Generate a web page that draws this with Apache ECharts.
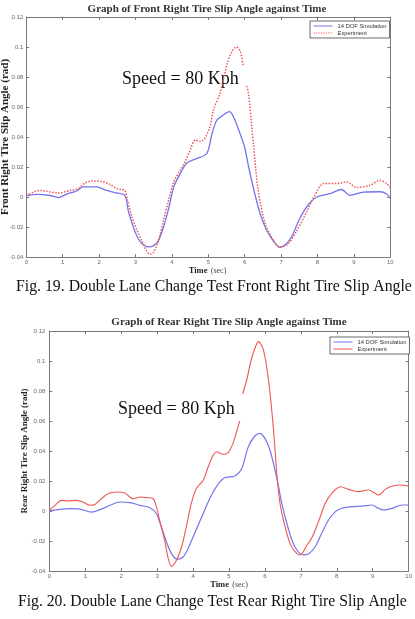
<!DOCTYPE html>
<html><head><meta charset="utf-8">
<script src="https://cdn.jsdelivr.net/npm/echarts@6/dist/echarts.min.js"></script>
<style>html,body{margin:0;padding:0;background:#fff}#c{width:415px;height:619px}</style>
</head><body><div id="c"></div>
<script>
// ---------- data ----------
const xTickValues = [0,1,2,3,4,5,6,7,8,9,10];
const yMin = -0.04, yMax = 0.12, yStep = 0.02;

const frontSimT = [0,0.3,0.65,0.88,1.1,1.38,1.56,1.93,2.2,2.48,2.71,2.8,2.94,3.08,3.22,3.36,3.5,3.63,3.77,3.91,4.05,4.23,4.41,4.68,4.96,5.1,5.23,5.4,5.58,5.7,5.87,6.0,6.1,6.2,6.33,6.45,6.6,6.78,6.97,7.15,7.3,7.52,7.75,7.98,8.34,8.66,8.89,9.26,9.72,9.9,10];
const frontSimV = [0.001,0.0018,0.001,-0.0004,0.0018,0.004,0.0067,0.0067,0.0044,0.0027,0.001,-0.009,-0.02,-0.028,-0.032,-0.0333,-0.0324,-0.029,-0.02,-0.0078,0.0067,0.0156,0.0227,0.0256,0.029,0.042,0.051,0.0545,0.0569,0.053,0.0424,0.033,0.021,0.01,-0.003,-0.013,-0.022,-0.029,-0.0335,-0.031,-0.026,-0.014,-0.005,0,0.0022,0.005,0.0011,0.0033,0.0035,0.002,-0.001];

const frontExpT = [0,0.38,0.56,0.88,1.2,1.43,1.61,1.84,2.07,2.3,2.48,2.62,2.71,2.78,2.9,3.04,3.17,3.3,3.4,3.5,3.63,3.77,3.91,4.05,4.23,4.37,4.5,4.64,4.78,4.9,5.05,5.14,5.32,5.52,5.65,5.78,5.88,5.96,6.0,6.05,6.1,6.24,6.37,6.56,6.79,6.97,7.2,7.44,7.7,7.9,8.18,8.54,8.8,9.08,9.44,9.72,9.9,10];
const frontExpV = [0.001,0.0044,0.0038,0.0027,0.0044,0.0056,0.0093,0.0107,0.0104,0.0084,0.0056,0.005,0.0044,-0.002,-0.013,-0.022,-0.029,-0.0356,-0.0382,-0.0367,-0.029,-0.0156,-0.002,0.01,0.0178,0.024,0.031,0.038,0.037,0.039,0.047,0.058,0.069,0.089,0.097,0.1,0.097,0.087,null,0.074,0.07,0.035,0.0047,-0.0175,-0.029,-0.0335,-0.031,-0.022,-0.01,0,0.009,0.009,0.01,0.0063,0.0078,0.011,0.009,0.006];

const rearSimT = [0,0.3,0.57,0.85,1.18,1.41,1.69,1.96,2.24,2.52,2.8,2.98,3.12,3.26,3.4,3.56,3.72,3.86,4.0,4.14,4.28,4.42,4.56,4.74,4.88,5.02,5.17,5.35,5.54,5.72,5.86,6.0,6.14,6.28,6.38,6.47,6.61,6.75,6.89,7.07,7.21,7.4,7.58,7.77,7.96,8.14,8.42,8.7,8.98,9.16,9.3,9.54,9.81,10];
const rearSimV = [0,0.0011,0.0016,0.0013,-0.0007,0.0009,0.0038,0.006,0.0056,0.0038,0.0022,-0.0018,-0.0107,-0.0207,-0.0284,-0.0322,-0.0307,-0.0251,-0.0173,-0.0096,-0.0018,0.006,0.0127,0.0193,0.0222,0.0227,0.0233,0.028,0.0429,0.05,0.0518,0.0484,0.0407,0.0273,0.0162,0.0051,-0.0082,-0.0193,-0.026,-0.0293,-0.0287,-0.0238,-0.0149,-0.006,-0.0004,0.0018,0.0029,0.0033,0.004,0.0018,0.0007,0.0018,0.004,0.004];

const rearExpT = [0,0.16,0.34,0.53,0.76,0.94,1.13,1.27,1.45,1.64,1.87,2.1,2.33,2.52,2.7,2.89,2.98,3.07,3.21,3.3,3.4,3.54,3.68,3.81,3.95,4.09,4.28,4.42,4.56,4.66,4.83,4.97,5.11,5.2,5.3,5.34,5.38,5.5,5.6,5.7,5.82,5.96,6.1,6.24,6.33,6.42,6.56,6.7,6.84,6.98,7.07,7.17,7.3,7.49,7.68,7.86,8.1,8.33,8.6,8.88,9.16,9.35,9.49,9.72,10];
const rearExpV = [0.0004,0.0038,0.0071,0.0067,0.0071,0.006,0.0038,0.0044,0.0082,0.0116,0.0127,0.012,0.0082,0.0093,0.0089,0.0082,0.0027,-0.0062,-0.0196,-0.0307,-0.0369,-0.0329,-0.024,-0.0107,0.0049,0.0149,0.0204,0.0293,0.0371,0.0395,0.0378,0.0387,0.0449,0.052,0.06,null,0.078,0.088,0.099,0.107,0.1129,0.1073,0.0873,0.054,0.0251,0.0051,-0.0104,-0.0216,-0.0271,-0.0293,-0.0271,-0.0227,-0.0182,-0.0071,0.0051,0.0118,0.0162,0.0144,0.0129,0.014,0.0107,0.0144,0.0162,0.0173,0.0167];

const simName = '14 DOF Simulation';
const expName = 'Experiment';
const titles = ['Graph of Front Right Tire Slip Angle against Time','Graph of Rear Right Tire Slip Angle against Time'];
const yNames = ['Front Right Tire Slip Angle (rad)','Rear Right Tire Slip Angle (rad)'];
const captions = ['Fig. 19. Double Lane Change Test Front Right Tire Slip Angle','Fig. 20. Double Lane Change Test Rear Right Tire Slip Angle'];
const speedText = 'Speed = 80 Kph';

// ---------- build ----------
const zip = (t, v) => t.map((x, i) => [x, v[i]]);
const sans = 'Liberation Sans, Arial, sans-serif';
const serif = 'Liberation Serif, Times New Roman, serif';
const axisCol = '#7a7a7a';

function xAx(g, pos) {
  return {
    type: 'value', gridIndex: g, position: pos, min: 0, max: 10, interval: 1,
    axisLine: { show: true, onZero: false, lineStyle: { color: axisCol, width: 1 } },
    axisTick: { show: true, inside: true, length: 3, lineStyle: { color: axisCol } },
    axisLabel: { show: pos === 'bottom', fontSize: 6, color: '#666', fontFamily: sans, margin: 2,
      formatter: v => xTickValues.includes(v) ? String(v) : '' },
    splitLine: { show: false }
  };
}
function yAx(g, pos, margin) {
  return {
    type: 'value', gridIndex: g, position: pos, min: yMin, max: yMax, interval: yStep,
    axisLine: { show: true, onZero: false, lineStyle: { color: axisCol, width: 1 } },
    axisTick: { show: true, inside: true, length: 3, lineStyle: { color: axisCol } },
    axisLabel: { show: pos === 'left', fontSize: 6, color: '#666', fontFamily: sans, margin: margin,
      formatter: v => String(Math.round(v * 100) / 100) },
    splitLine: { show: false }
  };
}

const blue = '#7474ee';
const red = '#f05555';
const noMarker = { color: 'rgba(0,0,0,0)', borderWidth: 0, opacity: 0 };

const legendBase = {
  orient: 'vertical', itemWidth: 19, itemHeight: 7, itemGap: 1, padding: [2, 3, 2, 3],
  borderColor: '#444', borderWidth: 0.8, backgroundColor: '#fff', selectedMode: false,
  textStyle: { fontSize: 5.8, color: '#333', fontFamily: sans }
};

const option = {
  backgroundColor: '#fff',
  animation: false,
  grid: [
    { left: 26.3, top: 17, width: 364, height: 240 },
    { left: 49.3, top: 331, width: 360.7, height: 240 }
  ],
  xAxis: [xAx(0, 'bottom'), xAx(0, 'top'), xAx(1, 'bottom'), xAx(1, 'top')],
  yAxis: [yAx(0, 'left', 3), yAx(0, 'right', 3), yAx(1, 'left', 4), yAx(1, 'right', 4)],
  legend: [
    Object.assign({}, legendBase, { left: 310, top: 21,
      data: [{ name: simName, itemStyle: noMarker, lineStyle: { color: blue, width: 1, type: 'solid' } },
             { name: expName, itemStyle: noMarker, lineStyle: { color: red, width: 1.2, type: 'dotted' } }] }),
    Object.assign({}, legendBase, { left: 330, top: 337,
      data: [{ name: simName, itemStyle: noMarker, lineStyle: { color: blue, width: 1, type: 'solid' } },
             { name: expName, itemStyle: noMarker, lineStyle: { color: red, width: 1, type: 'solid' } }] })
  ],
  series: [
    { name: simName, type: 'line', xAxisIndex: 0, yAxisIndex: 0, data: zip(frontSimT, frontSimV),
      symbol: 'none', smooth: 0.3, lineStyle: { color: blue, width: 1.3 }, itemStyle: { color: blue } },
    { name: expName, type: 'line', xAxisIndex: 0, yAxisIndex: 0, data: zip(frontExpT, frontExpV),
      symbol: 'none', smooth: 0.3, lineStyle: { color: red, width: 1.5, type: 'dotted' }, itemStyle: { color: red } },
    { name: simName, type: 'line', xAxisIndex: 2, yAxisIndex: 2, data: zip(rearSimT, rearSimV),
      symbol: 'none', smooth: 0.3, lineStyle: { color: blue, width: 1.2 }, itemStyle: { color: blue } },
    { name: expName, type: 'line', xAxisIndex: 2, yAxisIndex: 2, data: zip(rearExpT, rearExpV),
      symbol: 'none', smooth: 0.3, lineStyle: { color: red, width: 1.1 }, itemStyle: { color: red } }
  ],
  graphic: [
    { type: 'text', x: 207, y: 9, style: { text: titles[0], font: 'bold 11px ' + serif, fill: '#333', align: 'center', verticalAlign: 'middle' } },
    { type: 'text', x: 229, y: 322, style: { text: titles[1], font: 'bold 11px ' + serif, fill: '#333', align: 'center', verticalAlign: 'middle' } },
    { type: 'text', x: 122, y: 79, style: { text: speedText, font: '18px ' + serif, fill: '#111', align: 'left', verticalAlign: 'middle' } },
    { type: 'text', x: 118, y: 409, style: { text: speedText, font: '18px ' + serif, fill: '#111', align: 'left', verticalAlign: 'middle' } },
    { type: 'text', x: 5, y: 137, rotation: Math.PI / 2, style: { text: yNames[0], font: 'bold 11px ' + serif, fill: '#222', align: 'center', verticalAlign: 'middle' } },
    { type: 'text', x: 25, y: 451, rotation: Math.PI / 2, style: { text: yNames[1], font: 'bold 9px ' + serif, fill: '#222', align: 'center', verticalAlign: 'middle' } },
    { type: 'text', x: 207.5, y: 271, style: { text: '{b|Time} {r|(sec)}', align: 'center', verticalAlign: 'middle',
        rich: { b: { font: 'bold 8.5px ' + serif, fill: '#222' }, r: { font: '8px ' + serif, fill: '#444' } } } },
    { type: 'text', x: 229, y: 585, style: { text: '{b|Time} {r|(sec)}', align: 'center', verticalAlign: 'middle',
        rich: { b: { font: 'bold 8.5px ' + serif, fill: '#222' }, r: { font: '8px ' + serif, fill: '#444' } } } },
    { type: 'text', x: 16, y: 287, style: { text: captions[0], font: '15.8px ' + serif, fill: '#111', align: 'left', verticalAlign: 'middle' } },
    { type: 'text', x: 18, y: 602, style: { text: captions[1], font: '15.7px ' + serif, fill: '#111', align: 'left', verticalAlign: 'middle' } }
  ]
};

const chart = echarts.init(document.getElementById('c'), null, { renderer: 'canvas' });
chart.setOption(option);
</script>
</body></html>
